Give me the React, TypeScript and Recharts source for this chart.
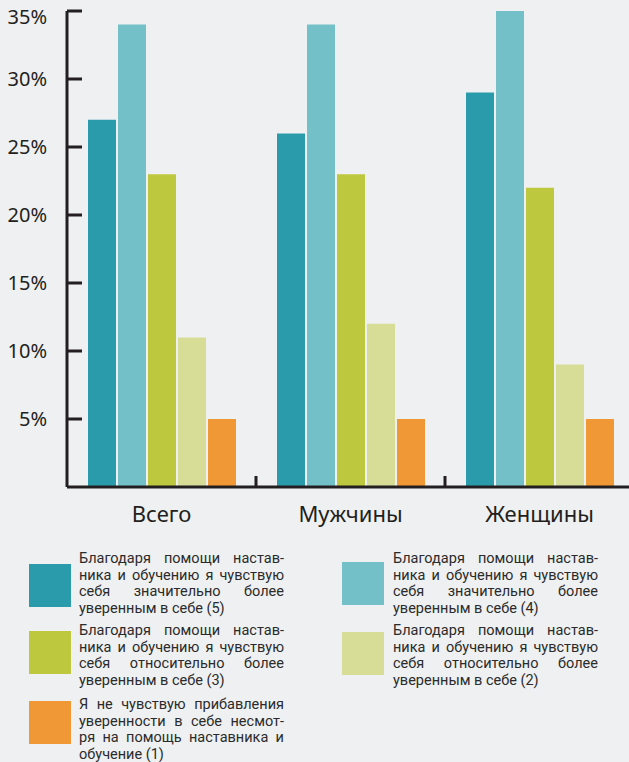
import React from 'react';
import { Bar, BarChart, XAxis, YAxis } from 'recharts';

const categories = ['Всего', 'Мужчины', 'Женщины'];
const level5 = [27, 26, 29];
const level4 = [34, 34, 35];
const level3 = [23, 23, 22];
const level2 = [11, 12, 9];
const level1 = [5, 5, 5];
const yTicks = [5, 10, 15, 20, 25, 30, 35];

const seriesNames = [
  'Благодаря помощи настав-|ника и обучению я чувствую|себя значительно более|уверенным в себе (5)',
  'Благодаря помощи настав-|ника и обучению я чувствую|себя значительно более|уверенным в себе (4)',
  'Благодаря помощи настав-|ника и обучению я чувствую|себя относительно более|уверенным в себе (3)',
  'Благодаря помощи настав-|ника и обучению я чувствую|себя относительно более|уверенным в себе (2)',
  'Я не чувствую прибавления|уверенности в себе несмот-|ря на помощь наставника и|обучение (1)',
];
const seriesColors = ['#2a9bab', '#74c0c8', '#bdc83e', '#d7dd96', '#f09835'];

const data = categories.map((name, i) => ({
  name,
  l5: level5[i],
  l4: level4[i],
  l3: level3[i],
  l2: level2[i],
  l1: level1[i],
}));

const INK = '#231f20';
const CHART_W = 640;
const M = { top: 11, right: 6, left: 0, bottom: 0 };
const Y_W = 67;
const bandHalf = (CHART_W - M.left - M.right - Y_W) / categories.length / 2;

const YTick = (props: any) => {
  const { x, y, payload, index } = props;
  // top label sits a little lower than its tick in the original
  const dy = index === yTicks.length - 1 ? 13 : 7;
  return (
    <g>
      <line x1={x} x2={x + 15} y1={y} y2={y} stroke={INK} strokeWidth={3} />
      <text x={x - 20} y={y} dy={dy} textAnchor="end" fill={INK} fontSize={20} fontFamily="'Noto Sans', sans-serif">
        {payload.value}%
      </text>
    </g>
  );
};

const XTick = (props: any) => {
  const { x, y, payload, index } = props;
  return (
    <g>
      {index < categories.length - 1 && (
        <line x1={x + bandHalf} x2={x + bandHalf} y1={y - 11} y2={y} stroke={INK} strokeWidth={3} />
      )}
      <text x={x} y={y + 35} textAnchor="middle" fill={INK} fontSize={22} fontFamily="'Noto Sans', sans-serif">
        {payload.value}
      </text>
    </g>
  );
};

const legendPos = [
  { left: 29, textLeft: 79, top: 551, boxTop: 564 },
  { left: 342, textLeft: 393, top: 551, boxTop: 562 },
  { left: 29, textLeft: 79, top: 623, boxTop: 631 },
  { left: 342, textLeft: 393, top: 623, boxTop: 632 },
  { left: 29, textLeft: 79, top: 697, boxTop: 701 },
];

export default function App() {
  return (
    <div style={{ position: 'absolute', left: 0, top: 0, width: 629, height: 762, overflow: 'hidden', background: '#eff0f2' }}>
      <BarChart width={CHART_W} height={540} data={data} margin={M} barSize={28} barGap={2}>
        <YAxis
          width={Y_W}
          domain={[0, 35]}
          ticks={yTicks}
          interval={0}
          tickSize={0}
          tickMargin={0}
          tickLine={false}
          axisLine={{ stroke: INK, strokeWidth: 3 }}
          tick={<YTick />}
        />
        <XAxis
          dataKey="name"
          height={53}
          tickSize={0}
          tickMargin={0}
          tickLine={false}
          axisLine={{ stroke: INK, strokeWidth: 3 }}
          tick={<XTick />}
          interval={0}
        />
        <Bar dataKey="l5" fill={seriesColors[0]} isAnimationActive={false} />
        <Bar dataKey="l4" fill={seriesColors[1]} isAnimationActive={false} />
        <Bar dataKey="l3" fill={seriesColors[2]} isAnimationActive={false} />
        <Bar dataKey="l2" fill={seriesColors[3]} isAnimationActive={false} />
        <Bar dataKey="l1" fill={seriesColors[4]} isAnimationActive={false} />
      </BarChart>
      {seriesNames.map((name, i) => {
        const p = legendPos[i];
        const lines = name.split('|');
        return (
          <React.Fragment key={i}>
            <div style={{ position: 'absolute', left: p.left, top: p.boxTop, width: 42, height: 43, background: seriesColors[i] }} />
            <div
              style={{
                position: 'absolute',
                left: p.textLeft,
                top: p.top,
                width: 205,
                fontFamily: 'Roboto, sans-serif',
                fontSize: 14.5,
                lineHeight: '16.5px',
                color: '#2b2b2b',
              }}
            >
              {lines.map((ln, j) => (
                <div key={j} style={{ whiteSpace: 'nowrap', textAlign: 'justify', textAlignLast: j < lines.length - 1 ? 'justify' : 'left' }}>
                  {ln}
                </div>
              ))}
            </div>
          </React.Fragment>
        );
      })}
    </div>
  );
}
